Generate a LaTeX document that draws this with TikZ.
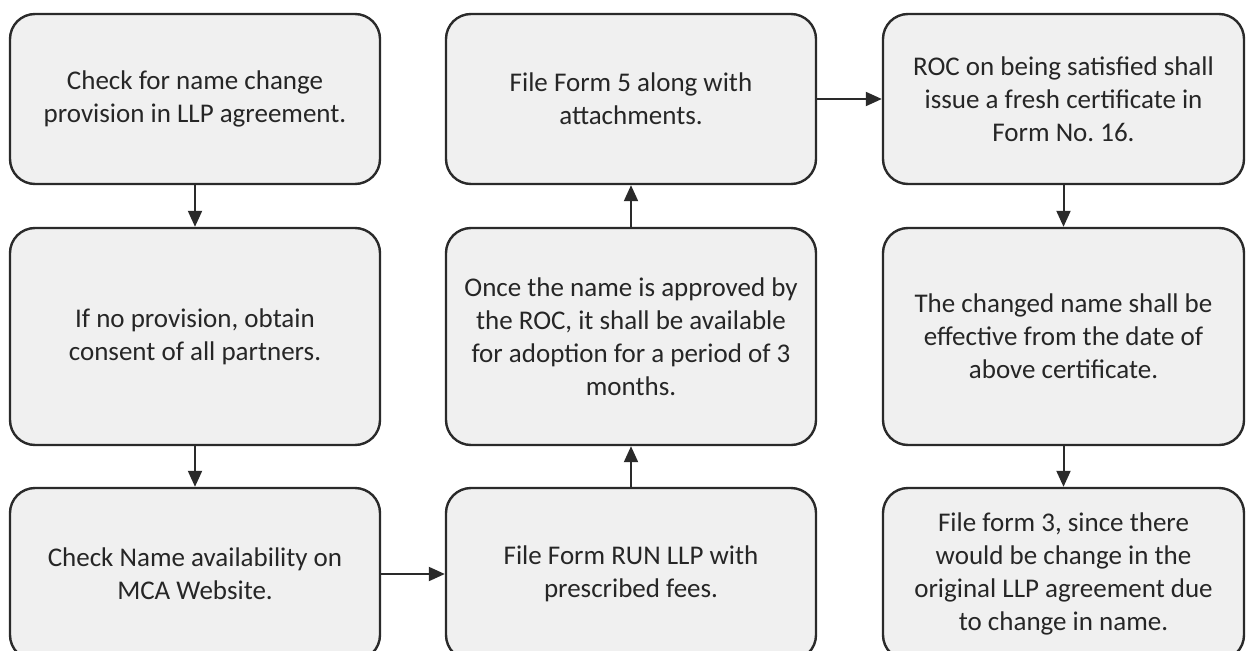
\documentclass[tikz,border=0pt]{standalone}
\usepackage{fontspec}
\setmainfont{Carlito}
\usetikzlibrary{arrows.meta}
\definecolor{boxfill}{HTML}{F0F0F0}
\definecolor{boxline}{HTML}{2A2A2A}
\definecolor{boxtext}{HTML}{262626}
\frenchspacing
\begin{document}
\begin{tikzpicture}[x=1pt,y=-1pt,
  stepbox/.style={draw=boxline, fill=boxfill, line width=2.4pt,
    rounded corners=25pt, inner sep=0pt, align=center,
    text=boxtext, font=\fontsize{27}{33}\selectfont},
  flow/.style={draw=boxline, line width=2pt,
    -{Triangle[length=16pt,width=14pt]}}]
\useasboundingbox (0,0) rectangle (1246,650);

% first column
\node[stepbox, minimum width=370pt, minimum height=170pt] (a1) at (195,99)
  {Check for name change\\provision in LLP agreement.};
\node[stepbox, minimum width=370pt, minimum height=217pt] (a2) at (195,336.5)
  {If no provision, obtain\\consent of all partners.};
\node[stepbox, minimum width=370pt, minimum height=172pt] (a3) at (195,574)
  {Check Name availability on\\MCA Website.};

% second column
\node[stepbox, minimum width=370pt, minimum height=170pt] (b1) at (631,99)
  {File Form 5 along with\\attachments.};
\node[stepbox, minimum width=370pt, minimum height=217pt] (b2) at (631,336.5)
  {Once the name is approved by\\the ROC, it shall be available\\for adoption for a period of 3\\months.};
\node[stepbox, minimum width=370pt, minimum height=172pt] (b3) at (631,574)
  {File Form RUN LLP with\\prescribed fees.};

% third column
\node[stepbox, minimum width=361pt, minimum height=170pt] (c1) at (1063.5,99)
  {ROC on being satisfied shall\\issue a fresh certificate in\\Form No. 16.};
\node[stepbox, minimum width=361pt, minimum height=217pt] (c2) at (1063.5,336.5)
  {The changed name shall be\\effective from the date of\\above certificate.};
\node[stepbox, minimum width=361pt, minimum height=172pt] (c3) at (1063.5,574)
  {File form 3, since there\\would be change in the\\original LLP agreement due\\to change in name.};

% connectors
\draw[flow] (a1.south) -- (a2.north);
\draw[flow] (a2.south) -- (a3.north);
\draw[flow] (a3.east) -- (b3.west);
\draw[flow] (b3.north) -- (b2.south);
\draw[flow] (b2.north) -- (b1.south);
\draw[flow] (b1.east) -- (c1.west);
\draw[flow] (c1.south) -- (c2.north);
\draw[flow] (c2.south) -- (c3.north);
\end{tikzpicture}
\end{document}
